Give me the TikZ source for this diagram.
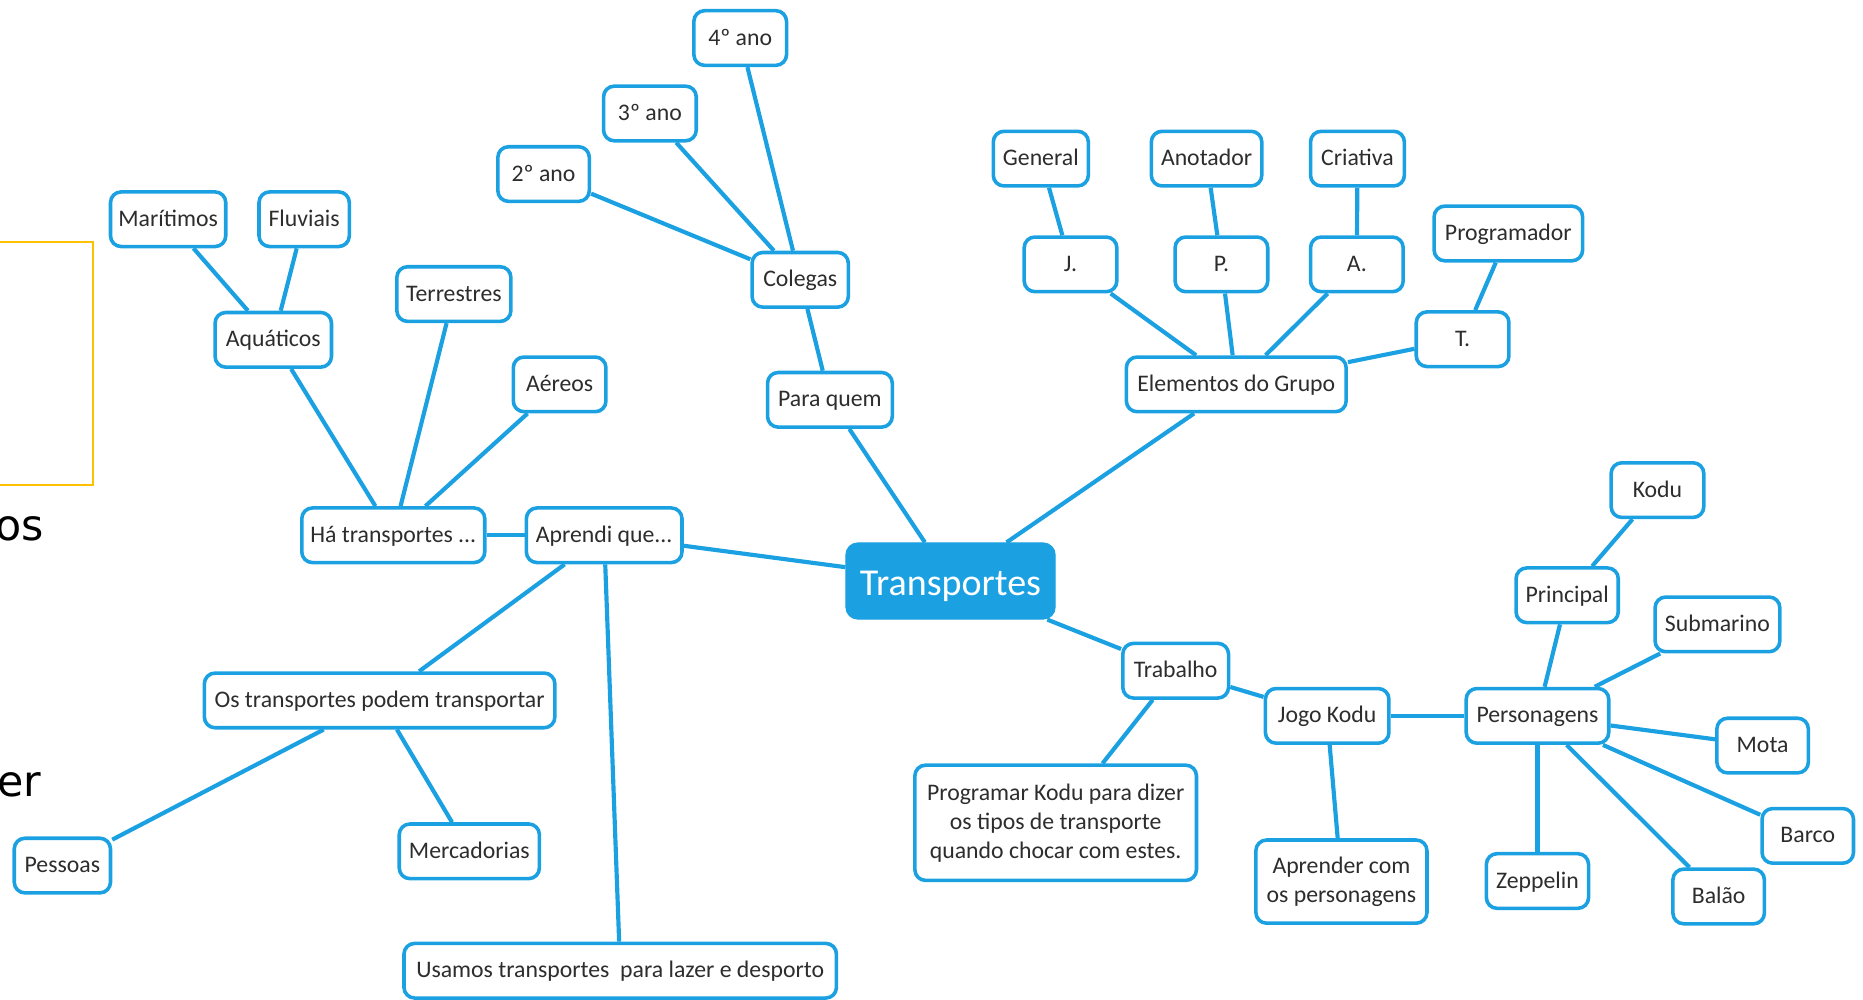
\documentclass[tikz,border=0pt]{standalone}
\usepackage{fontspec}
\setmainfont{Carlito}
\newfontfamily\fragfont{DejaVu Sans}
\usetikzlibrary{backgrounds}
\definecolor{mblue}{RGB}{27,161,226}
\definecolor{txtgray}{RGB}{45,45,45}
\definecolor{ygold}{RGB}{255,192,0}
\tikzset{
  box/.style={draw=mblue, line width=3pt, rounded corners=9pt, fill=white,
    text=txtgray, font=\fontsize{20}{24.5}\selectfont, inner sep=0pt,
    minimum height=46pt, align=center},
  sbox/.style={box, text height=17pt, text depth=5pt},
  rootbox/.style={draw=mblue, line width=1pt, rounded corners=10pt, fill=mblue,
    text=white, font=\fontsize{32}{36}\selectfont, inner sep=0pt,
    minimum width=176pt, minimum height=64pt, text height=28pt, text depth=4pt},
  link/.style={draw=mblue, line width=3.5pt},
  frag/.style={font=\fragfont\fontsize{36}{40}\selectfont, text=black, inner sep=0pt, anchor=base east}
}
\begin{document}
\begin{tikzpicture}[x=1pt,y=-1pt]
\useasboundingbox (0,0) rectangle (1568,841);
% fragments at left edge
\draw[ygold, line width=1.5pt] (-10,204) rectangle (78,408);
\node[frag] (fos) at (37,455) {os};
\node[frag] (fer) at (35,670) {er};
% root
\node[rootbox] (root) at (800,489) {Transportes};
% left branch
\node[sbox, minimum width=97pt] (mar) at (141.5,184.5) {Marítimos};
\node[sbox, minimum width=76pt] (flu) at (256,184.5) {Fluviais};
\node[sbox, minimum width=98pt] (aqu) at (230,286) {Aquáticos};
\node[sbox, minimum width=96pt] (ter) at (382,247.5) {Terrestres};
\node[sbox, minimum width=78pt] (aer) at (471,323.5) {Aéreos};
\node[sbox, minimum width=154pt] (ha) at (331,450.5) {Há transportes ...};
\node[sbox, minimum width=131pt] (apr) at (508.5,450.5) {Aprendi que...};
\node[sbox, minimum width=295pt] (ost) at (319.5,589.5) {Os transportes podem transportar};
\node[sbox, minimum width=81pt] (pes) at (52.5,728.5) {Pessoas};
\node[sbox, minimum width=118pt] (mer) at (395,716.5) {Mercadorias};
\node[sbox, minimum width=364pt] (usa) at (522,817) {Usamos transportes\ \ para lazer e desporto};
% top branch
\node[sbox, minimum width=77pt] (a2) at (457.5,146.5) {2º ano};
\node[sbox, minimum width=78pt] (a3) at (547,95.5) {3º ano};
\node[sbox, minimum width=78pt] (a4) at (623,32) {4º ano};
\node[sbox, minimum width=81pt] (col) at (673.5,235.5) {Colegas};
\node[sbox, minimum width=105pt] (para) at (698.5,336.5) {Para quem};
% group branch
\node[sbox, minimum width=80pt] (gen) at (876,133.5) {General};
\node[sbox, minimum width=93pt] (ano) at (1015.5,133.5) {Anotador};
\node[sbox, minimum width=79pt] (cri) at (1142.5,133.5) {Criativa};
\node[sbox, minimum width=78pt] (nj) at (901,222.5) {J.};
\node[sbox, minimum width=78pt] (np) at (1028,222.5) {P.};
\node[sbox, minimum width=78pt] (na) at (1142,222.5) {A.};
\node[sbox, minimum width=125pt] (prog) at (1269.5,196.5) {Programador};
\node[sbox, minimum width=78pt] (nt) at (1231,285.5) {T.};
\node[sbox, minimum width=185pt] (ele) at (1040.5,323.5) {Elementos do Grupo};
% right-bottom branch
\node[sbox, minimum width=78pt] (kodu) at (1395,412.5) {Kodu};
\node[sbox, minimum width=86pt] (pri) at (1319,501) {Principal};
\node[sbox, minimum width=105pt] (sub) at (1445.5,525.5) {Submarino};
\node[sbox, minimum width=120pt] (pers) at (1294,602.5) {Personagens};
\node[sbox, minimum width=77pt] (mota) at (1483.5,627.5) {Mota};
\node[sbox, minimum width=77pt] (barco) at (1521.5,703.5) {Barco};
\node[sbox, minimum width=77pt] (balao) at (1446.5,754.5) {Balão};
\node[sbox, minimum width=86pt] (zep) at (1294,741.5) {Zeppelin};
\node[sbox, minimum width=89pt] (trab) at (989.5,564.5) {Trabalho};
\node[sbox, minimum width=104pt] (jogo) at (1117,602.5) {Jogo Kodu};
\node[box, minimum width=144pt, minimum height=70pt] (aprc) at (1129,742) {Aprender com\\os personagens};
\node[box, minimum width=237pt, minimum height=97pt] (prk) at (888.5,692.5) {Programar Kodu para dizer\\os tipos de transporte\\quando chocar com estes.};
% connectors
\begin{pgfonlayer}{background}
\draw[link] (mar) -- (aqu);
\draw[link] (flu) -- (aqu);
\draw[link] (aqu) -- (ha);
\draw[link] (ter) -- (ha);
\draw[link] (aer) -- (ha);
\draw[link] (ha) -- (apr);
\draw[link] (apr) -- (root);
\draw[link] (apr) -- (ost);
\draw[link] (apr) -- (usa);
\draw[link] (ost) -- (pes);
\draw[link] (ost) -- (mer);
\draw[link] (a2) -- (col);
\draw[link] (a3) -- (col);
\draw[link] (a4) -- (col);
\draw[link] (col) -- (para);
\draw[link] (para) -- (root);
\draw[link] (root) -- (ele);
\draw[link] (ele) -- (nj);
\draw[link] (ele) -- (np);
\draw[link] (ele) -- (na);
\draw[link] (ele) -- (nt);
\draw[link] (nj) -- (gen);
\draw[link] (np) -- (ano);
\draw[link] (na) -- (cri);
\draw[link] (nt) -- (prog);
\draw[link] (root) -- (trab);
\draw[link] (trab) -- (prk);
\draw[link] (trab) -- (jogo);
\draw[link] (jogo) -- (aprc);
\draw[link] (jogo) -- (pers);
\draw[link] (pers) -- (pri);
\draw[link] (pri) -- (kodu);
\draw[link] (pers) -- (sub);
\draw[link] (pers) -- (mota);
\draw[link] (pers) -- (barco);
\draw[link] (pers) -- (balao);
\draw[link] (pers) -- (zep);
\end{pgfonlayer}
\end{tikzpicture}
\end{document}
